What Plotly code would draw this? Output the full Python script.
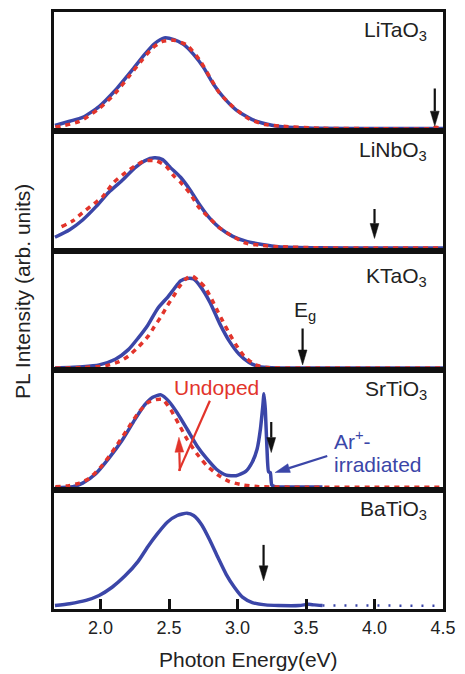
import math
import plotly.graph_objects as go
from plotly.subplots import make_subplots

# ---------------- data ----------------
PANELS = ["LiTaO<sub>3</sub>", "LiNbO<sub>3</sub>", "KTaO<sub>3</sub>", "SrTiO<sub>3</sub>", "BaTiO<sub>3</sub>"]
PANEL_LABEL_Y = [0.84, 0.83, 0.78, 0.83, 0.83]

litao_blue_x = [1.667, 1.774, 1.869, 1.989, 2.108, 2.226, 2.322, 2.393, 2.465, 2.536, 2.608, 2.679, 2.751, 2.822, 2.893, 2.989, 3.108, 3.251, 3.346, 3.6, 4.0, 4.5]
litao_blue_y = [0.035, 0.071, 0.104, 0.196, 0.335, 0.50, 0.64, 0.73, 0.78, 0.765, 0.723, 0.64, 0.53, 0.39, 0.28, 0.168, 0.085, 0.0375, 0.023, 0.012, 0.01, 0.01]
litao_red_x = [1.67, 1.846, 1.99, 2.108, 2.203, 2.298, 2.381, 2.453, 2.536, 2.631, 2.727, 2.798, 2.869, 2.965, 3.084, 3.203, 3.31, 3.6, 4.0, 4.4, 4.45, 4.5]
litao_red_y = [0.02, 0.07, 0.18, 0.31, 0.446, 0.585, 0.696, 0.75, 0.76, 0.718, 0.585, 0.446, 0.31, 0.196, 0.09, 0.043, 0.03, 0.012, 0.008, 0.008, 0.02, 0.008]

linbo_blue_x = [1.667, 1.774, 1.869, 1.965, 2.06, 2.155, 2.25, 2.322, 2.393, 2.453, 2.512, 2.584, 2.655, 2.727, 2.798, 2.869, 2.965, 3.06, 3.179, 3.298, 3.6, 4.0, 4.5]
linbo_blue_y = [0.10, 0.164, 0.247, 0.358, 0.483, 0.58, 0.69, 0.75, 0.775, 0.76, 0.69, 0.61, 0.50, 0.37, 0.26, 0.18, 0.108, 0.067, 0.039, 0.019, 0.01, 0.008, 0.008]
linbo_red_x = [1.715, 1.798, 1.869, 1.953, 2.012, 2.096, 2.167, 2.25, 2.322, 2.405, 2.476, 2.536, 2.584, 2.655, 2.715, 2.798, 2.869, 2.965, 3.06, 3.179, 3.298, 3.6, 4.0, 4.5]
linbo_red_y = [0.19, 0.24, 0.31, 0.386, 0.44, 0.567, 0.636, 0.706, 0.75, 0.75, 0.706, 0.62, 0.567, 0.47, 0.358, 0.26, 0.18, 0.108, 0.05, 0.03, 0.02, 0.01, 0.008, 0.008]

ktao_blue_x = [1.667, 1.869, 1.99, 2.108, 2.203, 2.274, 2.346, 2.417, 2.489, 2.536, 2.584, 2.631, 2.679, 2.727, 2.798, 2.869, 2.941, 3.012, 3.084, 3.155, 3.25, 3.6, 4.0, 4.5]
ktao_blue_y = [0.003, 0.014, 0.03, 0.078, 0.16, 0.258, 0.37, 0.51, 0.605, 0.675, 0.745, 0.765, 0.76, 0.70, 0.564, 0.383, 0.23, 0.12, 0.05, 0.017, 0.005, 0.003, 0.003, 0.003]
ktao_red_x = [1.67, 1.869, 2.036, 2.131, 2.203, 2.274, 2.346, 2.393, 2.441, 2.489, 2.536, 2.572, 2.619, 2.667, 2.715, 2.762, 2.822, 2.858, 2.893, 2.941, 2.989, 3.048, 3.131, 3.22, 3.6, 4.0, 4.5]
ktao_red_y = [0.003, 0.008, 0.022, 0.056, 0.105, 0.18, 0.272, 0.356, 0.44, 0.536, 0.62, 0.69, 0.758, 0.786, 0.745, 0.69, 0.564, 0.48, 0.40, 0.295, 0.20, 0.105, 0.03, 0.008, 0.003, 0.003, 0.003]

srtio_blue_x = [1.667, 1.798, 1.869, 1.965, 2.06, 2.155, 2.25, 2.322, 2.381, 2.441, 2.50, 2.56, 2.631, 2.703, 2.774, 2.846, 2.917, 2.989, 3.06, 3.108, 3.143, 3.167, 3.184, 3.193, 3.203, 3.215, 3.227, 3.239, 3.25, 3.275, 3.5, 3.62]
srtio_blue_y = [0.0, 0.01, 0.04, 0.12, 0.25, 0.40, 0.58, 0.705, 0.77, 0.79, 0.733, 0.636, 0.50, 0.358, 0.25, 0.158, 0.108, 0.103, 0.14, 0.22, 0.33, 0.50, 0.69, 0.80, 0.66, 0.33, 0.136, 0.13, 0.025, 0.01, 0.008, 0.008]
srtio_red_x = [1.67, 1.75, 1.846, 1.917, 2.012, 2.108, 2.203, 2.274, 2.346, 2.405, 2.453, 2.512, 2.572, 2.631, 2.703, 2.774, 2.858, 2.941, 3.036, 3.155, 3.5, 4.0, 4.5]
srtio_red_y = [0.01, 0.015, 0.04, 0.08, 0.19, 0.344, 0.51, 0.636, 0.725, 0.75, 0.75, 0.664, 0.54, 0.414, 0.29, 0.19, 0.108, 0.053, 0.025, 0.01, 0.005, 0.005, 0.005]

batio_blue_x = [1.667, 1.774, 1.893, 1.989, 2.084, 2.179, 2.274, 2.346, 2.417, 2.489, 2.56, 2.631, 2.679, 2.739, 2.798, 2.858, 2.917, 2.977, 3.036, 3.108, 3.203, 3.30, 3.45, 3.52, 3.56, 3.62]
batio_blue_y = [0.015, 0.03, 0.058, 0.1, 0.17, 0.267, 0.39, 0.517, 0.628, 0.725, 0.78, 0.80, 0.78, 0.70, 0.57, 0.42, 0.28, 0.17, 0.086, 0.04, 0.02, 0.015, 0.015, 0.025, 0.02, 0.015]
batio_tail_x = [3.62, 3.8, 4.0, 4.2, 4.45]
batio_tail_y = [0.015, 0.014, 0.013, 0.014, 0.013]

BLUE_SERIES = [(litao_blue_x, litao_blue_y), (linbo_blue_x, linbo_blue_y), (ktao_blue_x, ktao_blue_y),
               (srtio_blue_x, srtio_blue_y), (batio_blue_x, batio_blue_y)]
RED_SERIES = [(litao_red_x, litao_red_y), (linbo_red_x, linbo_red_y), (ktao_red_x, ktao_red_y),
              (srtio_red_x, srtio_red_y), None]

# band-gap arrows (x position, tail, tip) per panel
EG_X = [4.44, 4.0, 3.475, 3.246, 3.19]
EG_TAIL = [0.35, 0.34, 0.34, 0.56, 0.53]
EG_TIP = [0.03, 0.09, 0.03, 0.30, 0.225]

X_TICKS = [2.0, 2.5, 3.0, 3.5, 4.0, 4.5]
X_TICK_TEXT = ["2.0", "2.5", "3.0", "3.5", "4.0", "4.5"]
X_RANGE = [1.66, 4.5]
Y_RANGE = [-0.015, 1.0]

BLUE = "#3b46a8"
RED = "#e2342b"
FONT = "Liberation Sans, Arial, sans-serif"

# ---------------- layout geometry ----------------
W, H = 465, 674
ML, MR, MT, MB = 54, 14, 9, 65
PW = W - ML - MR
PH = (H - MT - MB) / 5
XS = PW / (X_RANGE[1] - X_RANGE[0])
YS = PH / (Y_RANGE[1] - Y_RANGE[0])

fig = make_subplots(rows=5, cols=1, shared_xaxes=True, vertical_spacing=0)

for i in range(5):
    r = i + 1
    bx, by = BLUE_SERIES[i]
    fig.add_trace(go.Scatter(x=bx, y=by, mode="lines",
                             line=dict(color=BLUE, width=3.5, shape="spline", smoothing=0.6),
                             showlegend=False, hoverinfo="skip"), row=r, col=1)
    if RED_SERIES[i] is not None:
        rx, ry = RED_SERIES[i]
        fig.add_trace(go.Scatter(x=rx, y=ry, mode="lines",
                                 line=dict(color=RED, width=3.5, dash="5px,5px", shape="spline", smoothing=0.6),
                                 showlegend=False, hoverinfo="skip"), row=r, col=1)

fig.add_trace(go.Scatter(x=batio_tail_x, y=batio_tail_y, mode="lines",
                         line=dict(color=BLUE, width=2.5, dash="2px,9px"),
                         showlegend=False, hoverinfo="skip"), row=5, col=1)


def refs(row):
    return ("x" if row == 1 else f"x{row}"), ("y" if row == 1 else f"y{row}")


def add_arrow(row, x0, y0, x1, y1, color, lw=2.2, headlen=15, headw=9):
    xr, yr = refs(row)
    dx = (x1 - x0) * XS
    dy = (y1 - y0) * YS
    L = math.hypot(dx, dy)
    ux, uy = dx / L, dy / L
    bxp = x1 - headlen * ux / XS
    byp = y1 - headlen * uy / YS
    px, py = -uy, ux
    lx = bxp + headw / 2 * px / XS
    ly = byp + headw / 2 * py / YS
    rx_ = bxp - headw / 2 * px / XS
    ry_ = byp - headw / 2 * py / YS
    fig.add_shape(type="line", xref=xr, yref=yr, x0=x0, y0=y0, x1=bxp, y1=byp,
                  line=dict(color=color, width=lw))
    fig.add_shape(type="path", xref=xr, yref=yr,
                  path=f"M{x1},{y1} L{lx},{ly} L{rx_},{ry_} Z",
                  fillcolor=color, line=dict(color=color, width=0.5))


for i in range(5):
    add_arrow(i + 1, EG_X[i], EG_TAIL[i], EG_X[i], EG_TIP[i], "#111111")

# Undoped pointer (red) and Ar+-irradiated pointer (blue) in SrTiO3 panel
UNDOPED_LINE = [(2.798, 0.74), (2.572, 0.144)]
UNDOPED_ARROW = [(2.579, 0.144), (2.572, 0.43)]
AR_ARROW = [(3.655, 0.27), (3.274, 0.13)]

xr4, yr4 = refs(4)
fig.add_shape(type="line", xref=xr4, yref=yr4,
              x0=UNDOPED_LINE[0][0], y0=UNDOPED_LINE[0][1], x1=UNDOPED_LINE[1][0], y1=UNDOPED_LINE[1][1],
              line=dict(color=RED, width=2.2))
add_arrow(4, UNDOPED_ARROW[0][0], UNDOPED_ARROW[0][1], UNDOPED_ARROW[1][0], UNDOPED_ARROW[1][1], RED)
add_arrow(4, AR_ARROW[0][0], AR_ARROW[0][1], AR_ARROW[1][0], AR_ARROW[1][1], BLUE)

# ---------------- axes ----------------
for i in range(5):
    r = i + 1
    fig.update_xaxes(row=r, col=1, range=X_RANGE, showline=True, mirror=True, linecolor="#111111",
                     linewidth=3, showgrid=False, zeroline=False,
                     tickvals=X_TICKS, ticktext=X_TICK_TEXT,
                     ticks="inside" if r == 5 else "", ticklen=10, tickwidth=2.5, tickcolor="#111111",
                     showticklabels=(r == 5),
                     tickfont=dict(family=FONT, size=18, color="#222222"))
    fig.update_yaxes(row=r, col=1, range=Y_RANGE, showline=True, mirror=True, linecolor="#111111",
                     linewidth=3, showgrid=False, zeroline=False, showticklabels=False, ticks="")

annotations = []
for i in range(5):
    xr, yr = refs(i + 1)
    annotations.append(dict(x=4.40, y=PANEL_LABEL_Y[i], xref=xr, yref=yr, text=PANELS[i], showarrow=False,
                            xanchor="right", yanchor="middle",
                            font=dict(family=FONT, size=21, color="#222222")))

xr3, yr3 = refs(3)
annotations.append(dict(x=3.49, y=0.49, xref=xr3, yref=yr3, text="E<sub>g</sub>", showarrow=False,
                        xanchor="center", yanchor="middle", font=dict(family=FONT, size=21, color="#222222")))
annotations.append(dict(x=2.846, y=0.85, xref=xr4, yref=yr4, text="Undoped", showarrow=False,
                        xanchor="center", yanchor="middle", font=dict(family=FONT, size=21, color=RED)))
annotations.append(dict(x=3.69, y=0.41, xref=xr4, yref=yr4, text="Ar<sup>+</sup>-", showarrow=False,
                        xanchor="left", yanchor="middle", font=dict(family=FONT, size=21, color=BLUE)))
annotations.append(dict(x=3.69, y=0.20, xref=xr4, yref=yr4, text="irradiated", showarrow=False,
                        xanchor="left", yanchor="middle", font=dict(family=FONT, size=21, color=BLUE)))

annotations.append(dict(x=0.5, y=-0.085, xref="paper", yref="paper", text="Photon Energy(eV)",
                        showarrow=False, xanchor="center", yanchor="middle",
                        font=dict(family=FONT, size=21, color="#222222")))
annotations.append(dict(x=-0.081, y=0.532, xref="paper", yref="paper", text="PL Intensity (arb. units)",
                        showarrow=False, xanchor="center", yanchor="middle", textangle=-90,
                        font=dict(family=FONT, size=21, color="#222222")))

fig.update_layout(width=W, height=H, margin=dict(l=ML, r=MR, t=MT, b=MB),
                  paper_bgcolor="white", plot_bgcolor="white",
                  annotations=annotations, showlegend=False,
                  font=dict(family=FONT))

fig.write_html("out.html", config={"displayModeBar": False},
               post_script="document.body.style.margin='0';")
